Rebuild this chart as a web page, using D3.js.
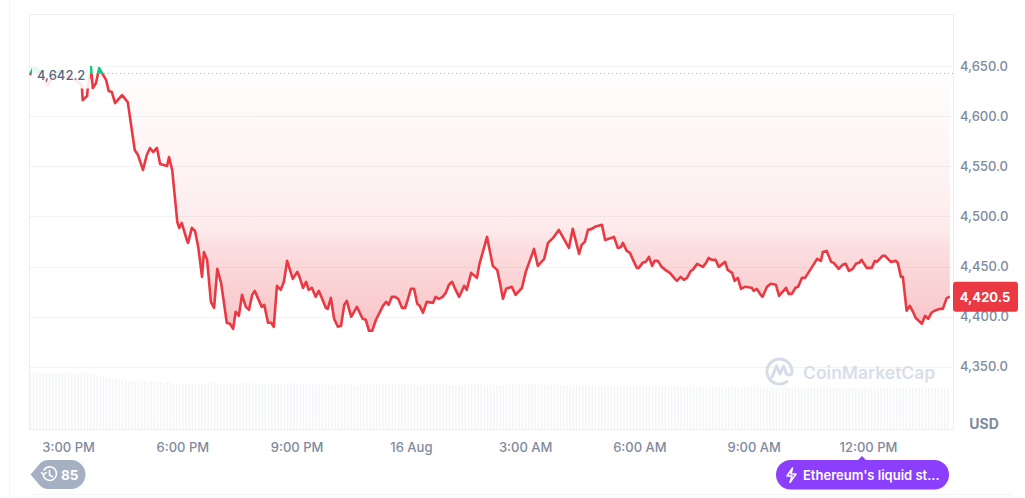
<!DOCTYPE html>
<html><head><meta charset="utf-8">
<script src="https://cdn.jsdelivr.net/npm/d3@7"></script>
<style>
html,body{margin:0;padding:0;background:#fff;overflow:hidden}
svg{display:block;font-family:Inter,"Noto Sans",sans-serif}
</style></head><body>
<svg id="chart" width="1025" height="498"></svg>
<script>
const minutes=[0,5,11,19,28,38,47,55,63,72,80,82,83,90,91,96,99,104,109,120,124,129,134,145,154,165,170,178,184,189,194,200,205,216,219,224,232,235,239,247,249,255,260,265,271,274,279,285,290,295,301,310,315,320,324,329,334,340,345,350,354,365,369,375,380,384,389,395,400,405,411,414,421,424,430,435,439,444,450,455,466,469,474,479,485,490,495,499,506,515,524,529,534,539,545,556,561,565,570,575,580,586,591,595,600,605,610,614,619,625,635,639,644,650,655,660,665,669,676,684,688,695,704,708,720,729,736,740,745,750,759,765,775,781,794,800,810,816,824,833,849,855,865,869,874,879,885,890,901,906,920,926,931,934,940,945,950,956,959,965,970,975,980,984,989,995,1003,1008,1016,1019,1025,1030,1035,1041,1044,1051,1057,1060,1065,1069,1074,1080,1085,1095,1099,1106,1110,1115,1120,1126,1137,1140,1145,1151,1154,1161,1167,1175,1180,1191,1195,1200,1206,1210,1216,1221,1225,1240,1246,1249,1255,1262,1266,1274,1280,1285,1290,1296,1301,1306,1310,1318,1326,1331,1334,1343,1347,1356,1364,1367,1372,1375,1381,1386,1391,1395,1405,1410,1415,1420,1425,1433,1438,1444,1449];
const prices=[4641.7,4648.5,4648.5,4641.7,4631.6,4641.7,4646.6,4643.6,4639.5,4636.5,4632.6,4627.6,4616.6,4620.6,4629.6,4649.5,4628.6,4633.6,4648.5,4636.5,4625.6,4624.6,4613.6,4621.6,4614.6,4566.8,4561.8,4546.9,4561.8,4568.8,4564.8,4568.8,4552.8,4550.8,4559.8,4546.9,4495,4489,4494,4477.1,4474.1,4489.1,4486.1,4470.1,4440.2,4465.1,4457.2,4415.3,4409.3,4448.2,4434.3,4394.4,4393.4,4388.4,4405.4,4401.4,4422.3,4410.3,4407.4,4422.3,4426.3,4410.3,4412.3,4394.4,4394.4,4390.4,4431.3,4427.3,4435.3,4456.2,4444.2,4438.2,4445.2,4441.2,4429.3,4435.3,4427.3,4429.3,4420.3,4426.3,4409.3,4408.3,4419.3,4398.4,4390.4,4391.4,4412.3,4416.3,4400.4,4410.3,4398.4,4397.4,4386.4,4386.4,4397.4,4411.3,4415.3,4412.3,4420.3,4420.3,4418.3,4409.3,4409.3,4417.3,4428.3,4428.3,4413.3,4411.3,4404.4,4415.3,4414.3,4420.3,4418.3,4420.3,4424.3,4432.3,4435.3,4429.3,4420.3,4431.3,4427.3,4444.2,4439.2,4453,4480.1,4451.2,4447.2,4435.3,4418.3,4428.3,4430.3,4422.3,4429.3,4445.2,4468.1,4451.2,4458.2,4474.1,4479.1,4487.1,4469.1,4488.1,4463.2,4472.1,4475.1,4487.1,4488.1,4490.1,4492.1,4477.1,4480.1,4469.1,4470.1,4474.1,4466.1,4464.2,4457.2,4449.2,4449.2,4454.2,4455.2,4460.2,4451.2,4456.2,4456.2,4450.2,4446.2,4444.2,4438.2,4436.2,4440.2,4437.2,4439.2,4446.2,4447.2,4453.2,4451.2,4450.2,4454.2,4459.2,4457.2,4457.2,4450.2,4455.2,4447.2,4444.2,4436.2,4439.2,4428.3,4430.3,4429.3,4426.3,4428.3,4422.3,4420.3,4430.3,4433.3,4432.3,4421.3,4429.3,4423.3,4423.3,4429.3,4430.3,4439.2,4439.2,4443.2,4458.2,4456.2,4465.1,4466.1,4455.2,4454.2,4448.2,4452.2,4453.2,4446.2,4448.2,4453.2,4454.2,4457.2,4449.2,4449.2,4456.2,4455.2,4461.2,4461.2,4455.2,4456.2,4454.2,4440.2,4440.2,4406.4,4411.3,4405.4,4399.4,4393.4,4401.4,4398.4,4404.4,4406.4,4408.3,4408.3,4419,4420.5];
const volumes=[57,56,57,56,56,56,56,56,56,56,
56,56,57,56,56,55,56,57,56,56,
54,53,52,52,51,51,50,50,49,49,
48,48,48,47,47,47,48,47,47,47,
47,47,46,47,47,45,45,46,45,45,
45,46,45,45,46,45,46,47,46,45,
45,46,46,45,46,45,45,46,46,46,
45,46,45,45,46,45,45,45,45,45,
45,46,46,46,45,45,45,46,45,45,
45,44,44,44,44,44,45,46,45,45,
46,45,43,43,44,44,45,45,44,44,
45,45,44,44,45,45,44,44,45,44,
45,44,44,44,45,44,45,45,44,45,
45,45,44,44,44,44,44,45,45,45,
45,44,45,44,43,44,45,44,44,43,
44,45,45,45,45,45,44,45,45,45,
45,44,44,44,45,44,44,44,43,44,
44,44,44,43,44,43,44,44,43,43,
44,43,43,43,44,44,43,42,42,43,
43,43,43,43,42,43,43,43,43,42,
43,43,42,43,43,42,42,42,43,42,
42,42,41,42,42,42,42,42,41,42,
42,42,42,42,41,42,42,42,42,42,
42,41,42,42,41,41,41,42,42,41,
41,42,41,41,41,41,41,41,42,41,
41,41,42,41,41,41,41,41,41,41,
41,41,41,41,41,42,41,41,41,41,
41,41,41,41,41,41,42,41,41,41,
41,41,41,41,41,41,41,41,41,41];
const volStepMinutes=5;
const priceTicks=[4350,4400,4450,4500,4550,4600,4650];
const timeTickMinutes=[60,240,420,600,780,960,1140,1320];
const timeTickLabels=["3:00 PM","6:00 PM","9:00 PM","16 Aug","3:00 AM","6:00 AM","9:00 AM","12:00 PM"];
const baselinePrice=4642.2;
const lastPrice=4420.5;
const baselineLabel="4,642.2";
const lastLabel="4,420.5";
const unitLabel="USD";
const brandLabel="CoinMarketCap";
const newsLabel="Ethereum's liquid st...";
const countLabel="85";

const RED="#ea3943",GREEN="#16c784",GRID="#f2f3f5",TXT="#808a9d";
const svg=d3.select("#chart");
const x=d3.scaleLinear().domain([0,1454]).range([30,953]);
const y=d3.scaleLinear().domain([4350,4650]).range([367.3,66.6]);
const v=d3.scaleLinear().domain([0,57]).range([429,372]);
const pts=minutes.map((m,i)=>({m,p:prices[i]}));
const yb=Math.floor(y(baselinePrice));

const defs=svg.append("defs");
const g1=defs.append("linearGradient").attr("id","redFill").attr("gradientUnits","userSpaceOnUse")
 .attr("x1",0).attr("x2",0).attr("y1",yb).attr("y2",y(4386));
[[0,.01],[.3,.05],[.6,.1],[.68,.17],[1,.3]].forEach(s=>g1.append("stop").attr("offset",s[0]).attr("stop-color",RED).attr("stop-opacity",s[1]));
defs.append("clipPath").attr("id","above").append("rect").attr("x",29).attr("y",14).attr("width",925).attr("height",yb-14);
defs.append("clipPath").attr("id","below").append("rect").attr("x",29).attr("y",yb).attr("width",925).attr("height",429-yb);

// frame of the page
svg.append("line").attr("x1",9.5).attr("x2",9.5).attr("y1",0).attr("y2",498).attr("stroke","#f3f4f6");
svg.append("line").attr("x1",30).attr("x2",1012).attr("y1",494.5).attr("y2",494.5).attr("stroke","#f3f4f6");

// grid
svg.append("g").selectAll("line").data(priceTicks).join("line")
 .attr("x1",29).attr("x2",953).attr("y1",d=>Math.floor(y(d))+.5).attr("y2",d=>Math.floor(y(d))+.5)
 .attr("stroke",GRID);
const frame=svg.append("g").attr("stroke","#eceef1").attr("fill","none");
frame.append("path").attr("d","M29.5,429.5V14.5H953.5V429.5");
frame.append("path").attr("d","M29,429.5H953");

// volume bars
svg.append("g").selectAll("rect").data(volumes).join("rect")
 .attr("x",(d,i)=>x(i*volStepMinutes)-.2).attr("width",1.4)
 .attr("y",d=>v(d)).attr("height",d=>v(0)-v(d)).attr("fill","#f3f4f7");

// watermark
const wm=svg.append("g").attr("fill","none").attr("stroke","#d5dce8").attr("stroke-width",3).attr("stroke-linecap","round").attr("stroke-linejoin","round");
wm.append("path").attr("d","M792,372a12.5,12.5 0 1 0 -5,9.5M772,377l4.5,-11l3.5,8l3.5,-8l3,8q2,2 5,0");
svg.append("text").attr("x",803).attr("y",378.5).attr("font-size",17.5).attr("font-weight",600).attr("fill","#d8dee9").text(brandLabel);

// area + line
const areaFn=d3.area().x(d=>x(d.m)).y0(yb).y1(d=>y(d.p));
const lineFn=d3.line().x(d=>x(d.m)).y(d=>y(d.p));
svg.append("path").datum(pts).attr("d",areaFn).attr("fill","url(#redFill)").attr("clip-path","url(#below)");
svg.append("path").datum(pts).attr("d",areaFn).attr("fill",GREEN).attr("fill-opacity",.75).attr("clip-path","url(#above)");
svg.append("path").datum(pts).attr("d",lineFn).attr("fill","none").attr("stroke",RED).attr("stroke-width",2.6).attr("stroke-linejoin","round").attr("clip-path","url(#below)");
svg.append("path").datum(pts).attr("d",lineFn).attr("fill","none").attr("stroke",GREEN).attr("stroke-width",2.6).attr("stroke-linejoin","round").attr("clip-path","url(#above)");

// baseline and its label
svg.append("line").attr("x1",88).attr("x2",953).attr("y1",yb-.5).attr("y2",yb-.5)
 .attr("stroke","#a6b0c3").attr("stroke-dasharray","1 3");
svg.append("rect").attr("x",32).attr("y",60).attr("width",58).attr("height",28.5).attr("fill","#fff").attr("fill-opacity",.88);
svg.append("text").attr("x",37).attr("y",80).attr("font-size",13).attr("font-weight",500).attr("fill","#58667e").text(baselineLabel);

// axes
const yAxis=svg.append("g").attr("transform","translate(953,-0.5)")
 .call(d3.axisRight(y).tickValues(priceTicks).tickSize(0).tickPadding(7).tickFormat(d3.format(",.1f")));
yAxis.select(".domain").remove();
yAxis.selectAll("text").attr("font-family","Inter").attr("font-size",13).attr("font-weight",500).attr("fill",TXT);
const xAxis=svg.append("g").attr("transform","translate(0,429)")
 .call(d3.axisBottom(x).tickValues(timeTickMinutes).tickSize(0).tickPadding(14).tickFormat((d,i)=>timeTickLabels[i]));
xAxis.select(".domain").remove();
xAxis.selectAll("text").attr("font-family","Inter").attr("font-size",13).attr("font-weight",500).attr("fill",TXT);
svg.append("text").attr("x",984).attr("y",428.5).attr("text-anchor","middle").attr("font-size",14).attr("font-weight",700).attr("fill",TXT).text(unitLabel);

// last price tag
const yl=y(lastPrice);
svg.append("rect").attr("x",953).attr("y",yl-15).attr("width",65).attr("height",30).attr("rx",3).attr("fill",RED);
svg.append("text").attr("x",985).attr("y",yl+5).attr("text-anchor","middle").attr("font-size",13).attr("font-weight",700).attr("fill","#fff").text(lastLabel);

// count badge
svg.append("path").attr("d","M30.5,474.5L40,463.5Q43,460 48,460H71a14.5,14.5 0 0 1 0,29H48Q43,489 40,485.5Z").attr("fill","#a6b0c3");
const clock=svg.append("g").attr("fill","none").attr("stroke","#fff").attr("stroke-width",1.6).attr("stroke-linecap","round").attr("stroke-linejoin","round");
clock.append("path").attr("d","M44,470a6.8,6.8 0 1 1 -.6,6M41.5,472.5l2.2,2.2l2.4,-2.2M49.5,470.5v4.5l3,1.8");
svg.append("text").attr("x",61).attr("y",479.5).attr("font-size",13.5).attr("font-weight",700).attr("fill","#fff").text(countLabel);

// news pill
svg.append("path").attr("d","M858,460l4,-4l4,4Z").attr("fill","#8b3ffc");
svg.append("rect").attr("x",776).attr("y",460).attr("width",173).attr("height",29.5).attr("rx",14.75).attr("fill","#8b3ffc");
svg.append("path").attr("d","M792.5,468l-5.5,8h5l-2,6.5l6,-8.5h-5Z").attr("fill","none").attr("stroke","#fff").attr("stroke-width",1.5).attr("stroke-linejoin","round");
svg.append("text").attr("x",803).attr("y",479.5).attr("font-size",13).attr("font-weight",600).attr("fill","#fff").text(newsLabel);
</script>
</body></html>
